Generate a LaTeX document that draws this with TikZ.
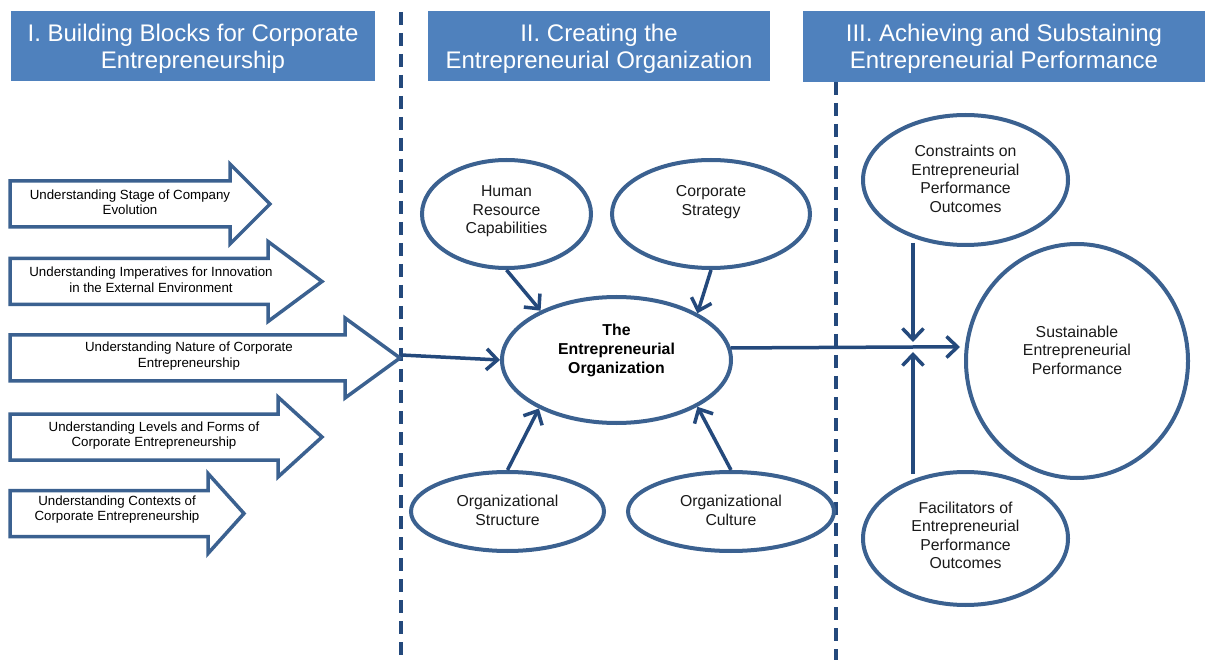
\documentclass[tikz,border=0pt]{standalone}
\usepackage{fontspec}
\setmainfont{Liberation Sans}
\usetikzlibrary{shapes.geometric,arrows.meta}
\definecolor{hdrblue}{HTML}{4F81BD}
\definecolor{shapeblue}{HTML}{3B6190}
\definecolor{connblue}{HTML}{24497C}
\definecolor{txt}{HTML}{1A1A1A}
\newcommand\blkarrow[3]{%
  \draw[barrow] (10,#1-23) -- (#2,#1-23) -- (#2,#1-40) -- (#3,#1) -- (#2,#1+40) -- (#2,#1+23) -- (10,#1+23) -- cycle;}
\begin{document}
\begin{tikzpicture}[x=1pt,y=-1pt,
  hdr/.style={fill=hdrblue, text=white, align=center, inner sep=0},
  hdrtext/.style={text=white, font=\fontsize{24}{27}\selectfont, align=center, inner sep=0},
  oval/.style={ellipse, draw=shapeblue, line width=4pt, fill=white, inner sep=0},
  etext/.style={font=\fontsize{15.8}{18.5}\selectfont, text=txt, align=center, inner sep=0},
  btext/.style={font=\bfseries\fontsize{15.8}{19}\selectfont, text=black, align=center, inner sep=0},
  atext/.style={font=\fontsize{13.3}{15.5}\selectfont, text=black, align=center, inner sep=0},
  conn/.style={draw=connblue, line width=3.5pt, -{Straight Barb[length=11pt,width=21pt]}},
  barrow/.style={draw=shapeblue, line width=3.5pt, fill=white, line join=miter},
  divider/.style={draw=connblue, line width=3.5pt, dash pattern=on 13pt off 8pt}
]
\useasboundingbox (0,0) rectangle (1208,660);
\fill[white] (0,0) rectangle (1208,660);

% headers
\node[hdr, minimum width=364pt, minimum height=70pt] (h1) at (193,46) {};
\node[hdr, minimum width=342pt, minimum height=70pt] (h2) at (599,46) {};
\node[hdr, minimum width=402pt, minimum height=71pt] (h3) at (1004,46.5) {};
\node[hdrtext] (h1t) at (193,49) {I. Building Blocks for Corporate\\Entrepreneurship};
\node[hdrtext] (h2t) at (599,49) {II. Creating the\\Entrepreneurial Organization};
\node[hdrtext] (h3t) at (1004,49) {III. Achieving and Substaining\\Entrepreneurial Performance};

% dividers
\coordinate (d1t) at (401,12); \coordinate (d1b) at (401,660);
\coordinate (d2t) at (836,82); \coordinate (d2b) at (836,660);
\draw[divider] (d1t) -- (d1b);
\draw[divider] (d2t) -- (d2b);

% block arrows
\blkarrow{204}{230}{270}
\blkarrow{281.5}{268}{322}
\blkarrow{358}{345}{400}
\blkarrow{437}{278}{322}
\blkarrow{513.5}{208}{244}
\node[atext] (t1) at (130,202) {Understanding Stage of Company\\Evolution};
\node[atext] (t2) at (151,279.5) {Understanding Imperatives for Innovation\\in the External Environment};
\node[atext] (t3) at (189,356) {Understanding Nature of Corporate\\Entrepreneurship};
\node[atext] (t4) at (154,435.5) {Understanding Levels and Forms of\\Corporate Entrepreneurship};
\node[atext] (t5) at (117,509.5) {Understanding Contexts of\\Corporate Entrepreneurship};
\coordinate (a3tip) at (401,355);

% middle ellipses
\node[oval, minimum width=169pt, minimum height=108pt] (hr) at (506.5,214) {};
\node[oval, minimum width=198pt, minimum height=108pt] (cs) at (711,214) {};
\node[oval, minimum width=229pt, minimum height=126pt] (ce) at (616.5,360) {};
\node[oval, minimum width=193pt, minimum height=79pt] (st) at (507.5,511.5) {};
\node[oval, minimum width=206pt, minimum height=79pt] (cu) at (731,511.5) {};
\node[etext] (hrt) at (506.5,211.5) {Human\\Resource\\Capabilities};
\node[etext] (cst) at (711,202) {Corporate\\Strategy};
\node[btext] (cet) at (616.5,350) {The\\Entrepreneurial\\Organization};
\node[etext] (stt) at (507.5,510.5) {Organizational\\Structure};
\node[etext] (cut) at (731,510.5) {Organizational\\Culture};

% right ellipses
\node[oval, minimum width=205pt, minimum height=130pt] (con) at (965.5,180) {};
\node[oval, minimum width=222pt, minimum height=234pt] (sus) at (1077,361) {};
\node[oval, minimum width=205pt, minimum height=133pt] (fac) at (965.5,538.5) {};
\node[etext] (cont) at (965.5,179) {Constraints on\\Entrepreneurial\\Performance\\Outcomes};
\node[etext] (sust) at (1077,350) {Sustainable\\Entrepreneurial\\Performance};
\node[etext] (fact) at (965.5,535.5) {Facilitators of\\Entrepreneurial\\Performance\\Outcomes};

% connectors
\draw[conn] (hr.south) -- (ce.147);
\draw[conn] (cs.south) -- (ce.30);
\draw[conn] (st.north) -- (ce.212);
\draw[conn] (cu.north) -- (ce.330);
\draw[conn] (a3tip) -- (ce.west);
\coordinate (jn) at (913,347);
\draw[conn, shorten >=4pt] (ce.6.5) -- (jn) -- (sus.west |- jn);
\draw[conn] ([yshift=4pt]jn |- con.south) -- ([yshift=5pt]jn);
\draw[conn] ([yshift=-4pt]jn |- fac.north) -- ([yshift=-5pt]jn);
\end{tikzpicture}
\end{document}
